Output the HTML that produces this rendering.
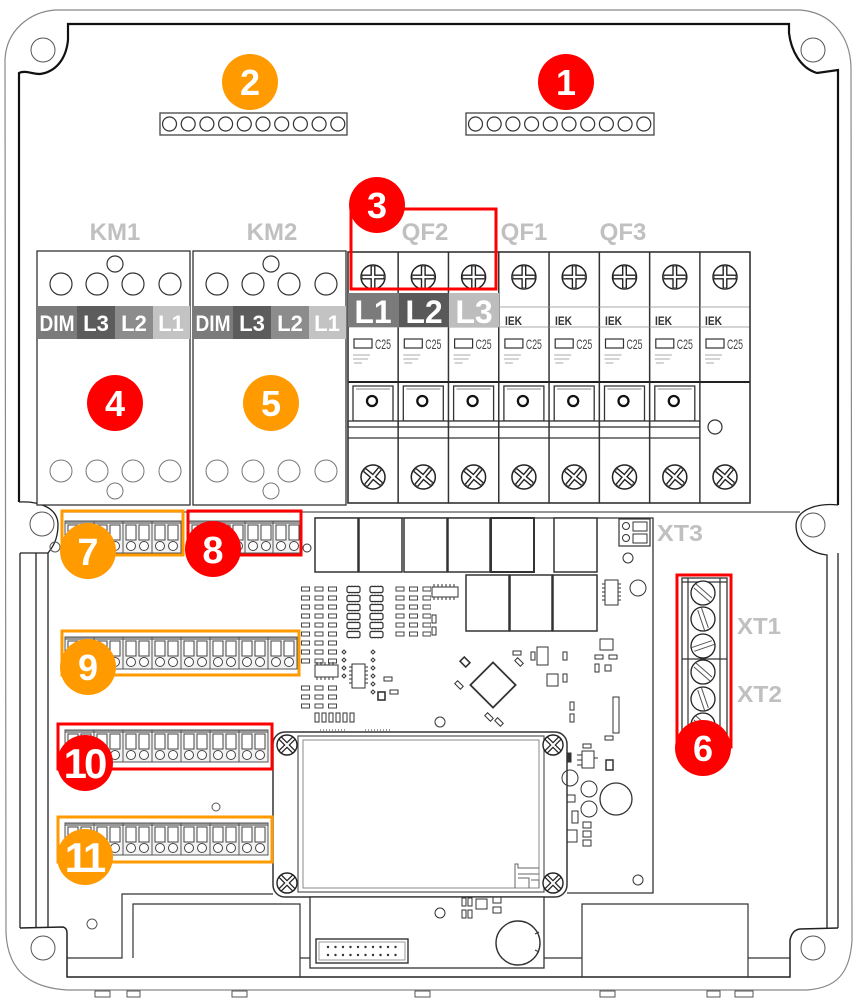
<!DOCTYPE html>
<html><head><meta charset="utf-8">
<style>
html,body{margin:0;padding:0;background:#fff;}
svg{display:block;}
text{font-family:"Liberation Sans",Arial,sans-serif;font-weight:bold;}
</style></head><body>
<svg width="861" height="1008" viewBox="0 0 861 1008" xmlns="http://www.w3.org/2000/svg">
<defs>
 <pattern id="smd" x="301" y="585" width="13.5" height="9" patternUnits="userSpaceOnUse">
  <rect x="0.5" y="2" width="8" height="4" fill="none" stroke="#444" stroke-width="1"/>
 </pattern>
 <pattern id="chp" x="346" y="585" width="23" height="9" patternUnits="userSpaceOnUse">
  <rect x="1" y="1.5" width="13" height="6" rx="1.5" fill="none" stroke="#333" stroke-width="1.2"/>
  <path d="M3,0.5V1.5M6,0.5V1.5M9,0.5V1.5M12,0.5V1.5M3,7.5V8.5M6,7.5V8.5M9,7.5V8.5M12,7.5V8.5" stroke="#333" stroke-width="0.8"/>
 </pattern>
 <g id="tm">
  <rect x="0" y="0" width="29" height="32" fill="#f2f2f2" stroke="#555" stroke-width="1"/>
  <rect x="0.5" y="0.5" width="28" height="2.5" fill="#999"/>
  <rect x="3" y="4" width="10" height="15" fill="#fff" stroke="#444" stroke-width="1"/>
  <rect x="16" y="4" width="10" height="15" fill="#fff" stroke="#444" stroke-width="1"/>
  <circle cx="8" cy="25" r="4.5" fill="#fff" stroke="#444"/>
  <circle cx="21" cy="25" r="4.5" fill="#fff" stroke="#444"/>
 </g>
 <g id="plus">
  <circle cx="0" cy="0" r="12" fill="#fff" stroke="#222" stroke-width="1.5"/>
  <path d="M-11,0H11M0,-11V11" stroke="#222" stroke-width="5"/>
  <path d="M-10.5,0H10.5M0,-10.5V10.5" stroke="#fff" stroke-width="2.2"/>
 </g>
 <g id="dscr">
  <circle cx="0" cy="0" r="10" fill="#fff" stroke="#222" stroke-width="1.4"/>
  <path d="M-7,-7L7,7M7,-7L-7,7" stroke="#222" stroke-width="4.5"/>
  <path d="M-6.5,-6.5L6.5,6.5M6.5,-6.5L-6.5,6.5" stroke="#fff" stroke-width="2"/>
 </g>
 <g id="slot">
  <circle cx="0" cy="0" r="12" fill="#fff" stroke="#222" stroke-width="1.3"/>
  <path d="M-9,-5L7,9M-7,-9L9,5" stroke="#555" stroke-width="1"/>
 </g>
 <g id="bkbase">
  <rect x="0" y="252" width="50" height="251" fill="#fff" stroke="#333" stroke-width="1.2"/>
  <use href="#plus" transform="translate(25,277)"/>
  <path d="M0,307H50M0,327H50" stroke="#aaa" stroke-width="1"/>
  <rect x="6" y="339" width="18" height="9" fill="#fff" stroke="#333" stroke-width="1.2"/>
  <text x="27" y="349" font-size="14" fill="#444" style="font-weight:normal" textLength="16" lengthAdjust="spacingAndGlyphs">C25</text>
  <path d="M5,355H22M5,359H20M6,363H14" stroke="#aaa" stroke-width="1"/>
  <path d="M0,382H50" stroke="#222" stroke-width="2"/>
  <use href="#plus" transform="translate(25,477) rotate(40)"/>
 </g>
 <g id="bk">
  <use href="#bkbase"/>
  <path d="M5,386H45V421H5Z" fill="#fff" stroke="#333" stroke-width="1.3"/>
  <path d="M8,389H42" stroke="#888" stroke-width="1"/>
  <circle cx="24" cy="401" r="5" fill="none" stroke="#111" stroke-width="2.3"/>
  <rect x="0" y="421" width="50" height="6" fill="#fff" stroke="#333" stroke-width="1.3"/>
  <path d="M0,438H50" stroke="#333" stroke-width="1.3"/>
 </g>
 <g id="km">
  <rect x="37" y="251" width="153" height="254" fill="#fff" stroke="#333" stroke-width="1.3"/>
  <circle cx="115" cy="264" r="8" fill="none" stroke="#333" stroke-width="1.2"/>
  <g fill="none" stroke="#333" stroke-width="1.2">
   <circle cx="61" cy="284" r="11"/><circle cx="97" cy="284" r="11"/><circle cx="133" cy="284" r="11"/><circle cx="170" cy="284" r="11"/>
  </g>
  <rect x="37" y="306" width="40" height="33" fill="#7b7b7b"/>
  <rect x="77" y="306" width="38" height="33" fill="#5c5c5c"/>
  <rect x="115" y="306" width="38" height="33" fill="#8c8c8c"/>
  <rect x="153" y="306" width="37" height="33" fill="#c3c3c3"/>
  <g fill="#fff" font-size="22" text-anchor="middle">
   <text x="57" y="331" textLength="35" lengthAdjust="spacingAndGlyphs">DIM</text>
   <text x="96" y="331">L3</text>
   <text x="134" y="331">L2</text>
   <text x="171" y="331">L1</text>
  </g>
  <g fill="none" stroke="#777" stroke-width="1">
   <circle cx="61" cy="471" r="11"/><circle cx="97" cy="471" r="11"/><circle cx="133" cy="471" r="11"/><circle cx="170" cy="471" r="11"/>
   <circle cx="115" cy="491" r="8"/>
  </g>
 </g>
</defs>

<!-- enclosure -->
<path d="M55,10 L800,10 C830,12 850,35 851,67 L852,940 C850,975 835,988 807,990 L67,990 C35,988 8,975 6,933 L5,60 C6,30 30,12 55,10 Z" fill="none" stroke="#888" stroke-width="1.2"/>
<path d="M19,502 L19,73 C25,70 32,74 40,74 C55,72 66,60 68,40 L68,24 L789,24 L789,33 C791,50 800,68 817,73 L838,70 L838,505" fill="none" stroke="#111" stroke-width="2.2"/>
<circle cx="43" cy="50" r="12" fill="none" stroke="#555" stroke-width="1"/>
<circle cx="813" cy="50" r="12" fill="none" stroke="#555" stroke-width="1"/>
<!-- side bosses -->
<path d="M19,502 C40,501 58,508 58,525 C58,540 52,548 48,553 L48,928" fill="none" stroke="#222" stroke-width="1.3"/>
<path d="M20,553 L20,928 M36,553 L36,928 M20,553 L48,553" fill="none" stroke="#222" stroke-width="1.3"/>
<circle cx="42" cy="524" r="12" fill="none" stroke="#555" stroke-width="1"/>
<circle cx="55" cy="547" r="5" fill="none" stroke="#555" stroke-width="1"/>
<path d="M838,505 C820,503 797,508 796,525 C796,542 810,553 827,555 L827,928 M838,553 L838,928" fill="none" stroke="#222" stroke-width="1.3"/>
<circle cx="813" cy="525" r="12" fill="none" stroke="#555" stroke-width="1"/>
<!-- bottom structure -->
<path d="M20,928 L63,927 Q67,928 67,933 L67,977 L790,977 L790,940 Q792,930 800,929 L838,928" fill="none" stroke="#222" stroke-width="1.5"/>
<circle cx="43" cy="948" r="12" fill="none" stroke="#555" stroke-width="1"/>
<circle cx="813" cy="948" r="12" fill="none" stroke="#555" stroke-width="1"/>
<path d="M67,958H122V894H273 M133,958V904H300V977 M300,958H310 M544,958H582 M582,977V904H748V977 M748,958H790" fill="none" stroke="#333" stroke-width="1.2"/>
<g fill="#fff" stroke="#555" stroke-width="1">
 <rect x="95" y="991" width="15" height="6"/><rect x="127" y="991" width="13" height="6"/><rect x="232" y="991" width="15" height="6"/>
 <rect x="415" y="991" width="15" height="6"/><rect x="600" y="991" width="15" height="6"/><rect x="707" y="991" width="13" height="6"/><rect x="735" y="991" width="18" height="6"/>
</g>
<path d="M62,512H800" stroke="#555" stroke-width="1.2"/>

<!-- top terminal strips -->
<rect x="160" y="113" width="187" height="22" fill="#fff" stroke="#444" stroke-width="1.3"/>
<rect x="466" y="113" width="188" height="22" fill="#fff" stroke="#444" stroke-width="1.3"/>
<g fill="none" stroke="#333" stroke-width="1.2">
 <circle cx="169.5" cy="124" r="7"/><circle cx="188.2" cy="124" r="7"/><circle cx="206.9" cy="124" r="7"/><circle cx="225.6" cy="124" r="7"/><circle cx="244.3" cy="124" r="7"/><circle cx="263" cy="124" r="7"/><circle cx="281.7" cy="124" r="7"/><circle cx="300.4" cy="124" r="7"/><circle cx="319.1" cy="124" r="7"/><circle cx="337.8" cy="124" r="7"/>
 <circle cx="475.5" cy="124" r="7"/><circle cx="494.2" cy="124" r="7"/><circle cx="512.9" cy="124" r="7"/><circle cx="531.6" cy="124" r="7"/><circle cx="550.3" cy="124" r="7"/><circle cx="569" cy="124" r="7"/><circle cx="587.7" cy="124" r="7"/><circle cx="606.4" cy="124" r="7"/><circle cx="625.1" cy="124" r="7"/><circle cx="643.8" cy="124" r="7"/>
</g>

<!-- labels -->
<g fill="#c0c0c0" font-size="24" text-anchor="middle">
 <text x="115" y="240">KM1</text>
 <text x="272" y="240">KM2</text>
 <text x="425" y="240">QF2</text>
 <text x="524" y="240">QF1</text>
 <text x="623" y="240">QF3</text>
</g>

<!-- contactors -->
<use href="#km"/>
<use href="#km" transform="translate(156,0)"/>

<!-- breakers -->
<use href="#bk" transform="translate(348,0)"/>
<use href="#bk" transform="translate(398.3,0)"/>
<use href="#bk" transform="translate(448.6,0)"/>
<use href="#bk" transform="translate(498.9,0)"/>
<use href="#bk" transform="translate(549.2,0)"/>
<use href="#bk" transform="translate(599.5,0)"/>
<use href="#bk" transform="translate(649.8,0)"/>
<use href="#bkbase" transform="translate(700,0)"/>
<circle cx="715" cy="427" r="7" fill="none" stroke="#333" stroke-width="1.2"/>
<rect x="348" y="252" width="402" height="251" fill="none" stroke="#333" stroke-width="1.5"/>
<rect x="348" y="293" width="51" height="34" fill="#7b7b7b"/>
<rect x="399" y="293" width="50" height="34" fill="#595959"/>
<rect x="449" y="293" width="50" height="34" fill="#bdbdbd"/>
<g fill="#fff" font-size="32" text-anchor="middle">
 <text x="373" y="323">L1</text>
 <text x="424" y="323">L2</text>
 <text x="474" y="323">L3</text>
</g>
<g fill="#333" font-size="12">
 <text x="505" y="325" textLength="17" lengthAdjust="spacingAndGlyphs">IEK</text><text x="555" y="325" textLength="17" lengthAdjust="spacingAndGlyphs">IEK</text><text x="605" y="325" textLength="17" lengthAdjust="spacingAndGlyphs">IEK</text><text x="655" y="325" textLength="17" lengthAdjust="spacingAndGlyphs">IEK</text><text x="705" y="325" textLength="17" lengthAdjust="spacingAndGlyphs">IEK</text>
</g>

<!-- PCB -->
<path d="M315,518H653V893H567" fill="none" stroke="#333" stroke-width="1.3"/>
<g fill="#fff" stroke="#333" stroke-width="1.5">
 <rect x="315" y="518" width="43" height="54"/><rect x="359" y="518" width="43" height="54"/><rect x="404" y="518" width="43" height="54"/><rect x="448" y="518" width="42" height="54"/><rect x="491" y="518" width="43" height="54" stroke-width="2"/><rect x="554" y="518" width="43" height="54"/>
 <rect x="466" y="575" width="43" height="56"/><rect x="510" y="575" width="42" height="56"/><rect x="553" y="575" width="44" height="56"/>
</g>
<rect x="619" y="519" width="31" height="27" fill="#fff" stroke="#333" stroke-width="1.2"/>
<g fill="none" stroke="#333" stroke-width="1">
 <rect x="633" y="522" width="14" height="9"/><rect x="633" y="534" width="14" height="9"/>
 <circle cx="626" cy="526" r="3.5"/><circle cx="626" cy="538" r="3.5"/>
 <circle cx="628" cy="558" r="5"/><circle cx="638" cy="588" r="8"/>
 <circle cx="307" cy="548" r="4"/>
 <rect x="605" y="580" width="13" height="25"/>
 <path d="M602,584H605M602,588H605M602,592H605M602,596H605M602,600H605M618,584H621M618,588H621M618,592H621M618,596H621M618,600H621"/>
</g>
<rect x="301" y="585" width="40" height="54" fill="url(#smd)"/>
<rect x="346" y="585" width="45" height="54" fill="url(#chp)"/>
<rect x="391" y="585" width="40" height="54" fill="url(#smd)"/>
<rect x="301" y="639" width="40" height="27" fill="url(#smd)"/>
<rect x="301" y="683" width="40" height="27" fill="url(#smd)"/>
<g fill="none" stroke="#333" stroke-width="1">
 <rect x="432" y="587" width="26" height="10"/>
 <path d="M434,584V587M438,584V587M442,584V587M446,584V587M450,584V587M454,584V587M434,597V600M438,597V600M442,597V600M446,597V600M450,597V600M454,597V600"/>
 <rect x="432" y="615" width="4" height="8"/><rect x="432" y="627" width="4" height="8"/>
 <rect x="315" y="665" width="23" height="12"/>
 <path d="M317,662V665M321,662V665M325,662V665M329,662V665M333,662V665M317,677V680M321,677V680M325,677V680M329,677V680M333,677V680"/>
 <rect x="352" y="664" width="13" height="24"/>
 <path d="M349,667H352M349,671H352M349,675H352M349,679H352M349,683H352M365,667H368M365,671H368M365,675H368M365,679H368M365,683H368"/>
 <path d="M344,650l2,2-2,2-2-2zM344,658l2,2-2,2-2-2zM344,666l2,2-2,2-2-2zM344,674l2,2-2,2-2-2zM373,650l2,2-2,2-2-2zM373,658l2,2-2,2-2-2zM373,666l2,2-2,2-2-2zM373,674l2,2-2,2-2-2zM373,682l2,2-2,2-2-2zM373,690l2,2-2,2-2-2z"/>
 <rect x="378" y="692" width="7" height="8" stroke-width="1.6"/>
 <rect x="384" y="677" width="8" height="4"/><rect x="390" y="690" width="8" height="4"/>
 <rect x="315" y="713" width="4" height="9"/><rect x="322" y="713" width="4" height="9"/><rect x="329" y="713" width="4" height="9"/><rect x="336" y="713" width="4" height="9"/><rect x="343" y="713" width="4" height="9"/><rect x="350" y="713" width="4" height="9"/>
 <path d="M320,730h25M365,730h27" stroke-dasharray="1,2"/>
 <circle cx="440" cy="722" r="5"/>
 <rect x="480" y="685" width="8" height="4"/><rect x="513" y="651" width="8" height="4"/>
 <rect x="537" y="647" width="11" height="18"/><rect x="531" y="652" width="4" height="8"/><rect x="563" y="652" width="4" height="8"/>
 <rect x="547" y="674" width="11" height="12"/><rect x="563" y="674" width="4" height="8"/>
 <rect x="600" y="639" width="13" height="11"/>
 <rect x="595" y="655" width="8" height="4"/><rect x="609" y="655" width="8" height="4"/>
 <rect x="595" y="664" width="4" height="8"/><rect x="605" y="665" width="6" height="6"/>
 <rect x="613" y="697" width="6" height="36"/>
 <rect x="605" y="736" width="8" height="4"/>
 <rect x="570" y="702" width="4" height="8"/><rect x="570" y="714" width="4" height="8"/>
 <rect x="455" y="683" width="8" height="4" transform="rotate(45 459 685)"/>
 <rect x="515" y="660" width="8" height="4" transform="rotate(45 519 662)"/>
 <rect x="485" y="715" width="8" height="4" transform="rotate(45 489 717)"/>
 <rect x="495" y="720" width="8" height="4" transform="rotate(45 499 722)"/>
 <rect x="461" y="659" width="8" height="6" transform="rotate(45 465 662)" stroke-width="1.6"/>
</g>
<rect x="477" y="669" width="32" height="32" transform="rotate(45 493 685)" fill="#fff" stroke="#333" stroke-width="1.8"/>

<!-- display board -->
<rect x="273" y="732" width="294" height="165" rx="12" fill="#fff" stroke="#333" stroke-width="1.5"/>
<rect x="298" y="736" width="246" height="156" fill="none" stroke="#555" stroke-width="1.2"/>
<rect x="303" y="740" width="236" height="148" fill="none" stroke="#888" stroke-width="1"/>
<path d="M515,888V864H518V868H539M518,874H539M518,878H529V888M531,880H539V888" fill="none" stroke="#666" stroke-width="1"/>
<use href="#dscr" transform="translate(287,745)"/>
<use href="#dscr" transform="translate(553,745)"/>
<use href="#dscr" transform="translate(287,883)"/>
<use href="#dscr" transform="translate(553,883)"/>
<g fill="none" stroke="#333" stroke-width="1">
 <rect x="567" y="753" width="4" height="9" fill="#333"/>
 <rect x="582" y="751" width="12" height="17"/><rect x="583" y="744" width="8" height="4"/>
 <path d="M577,755H582M577,760H582M577,765H582M594,758H598"/>
 <rect x="606" y="760" width="7" height="10" stroke-width="1.5"/>
 <circle cx="589" cy="789" r="8"/><circle cx="589" cy="809" r="8"/>
 <circle cx="616" cy="799" r="16" stroke-width="1.3"/>
 <circle cx="570" cy="778" r="8"/>
 <rect x="567" y="795" width="8" height="7"/>
 <rect x="572" y="811" width="6" height="12"/>
 <rect x="583" y="822" width="8" height="6"/><rect x="583" y="831" width="8" height="6"/><rect x="583" y="840" width="8" height="6"/>
 <rect x="567" y="830" width="10" height="12"/>
 <circle cx="638" cy="880" r="5"/>
</g>
<!-- connector board -->
<rect x="310" y="897" width="234" height="71" fill="#fff" stroke="#333" stroke-width="1.3"/>
<g fill="none" stroke="#333" stroke-width="1">
 <circle cx="440" cy="913" r="5"/>
 <rect x="462" y="898" width="4" height="8"/><rect x="468" y="898" width="4" height="8"/>
 <rect x="462" y="910" width="4" height="8"/><rect x="468" y="910" width="4" height="8"/>
 <rect x="476" y="899" width="11" height="10"/>
 <rect x="493" y="897" width="8" height="6"/><rect x="493" y="907" width="8" height="6"/>
 <circle cx="518" cy="943" r="22" stroke-width="1.4"/>
 <path d="M535,934l4,-2M535,950l4,2"/>
 <rect x="316" y="939" width="92" height="24" stroke-width="1.4"/>
 <rect x="319" y="942" width="86" height="18" stroke="#999"/>
</g>
<g fill="#333">
 <circle cx="328" cy="947" r="1.2"/><circle cx="335.5" cy="947" r="1.2"/><circle cx="343" cy="947" r="1.2"/><circle cx="350.5" cy="947" r="1.2"/><circle cx="358" cy="947" r="1.2"/><circle cx="365.5" cy="947" r="1.2"/><circle cx="373" cy="947" r="1.2"/><circle cx="380.5" cy="947" r="1.2"/><circle cx="388" cy="947" r="1.2"/><circle cx="395.5" cy="947" r="1.2"/>
 <circle cx="328" cy="955" r="1.2"/><circle cx="335.5" cy="955" r="1.2"/><circle cx="343" cy="955" r="1.2"/><circle cx="350.5" cy="955" r="1.2"/><circle cx="358" cy="955" r="1.2"/><circle cx="365.5" cy="955" r="1.2"/><circle cx="373" cy="955" r="1.2"/><circle cx="380.5" cy="955" r="1.2"/><circle cx="388" cy="955" r="1.2"/><circle cx="395.5" cy="955" r="1.2"/>
</g>
<g fill="none" stroke="#555" stroke-width="1">
 <circle cx="216" cy="807" r="4"/><circle cx="92" cy="924" r="5"/><circle cx="440" cy="722" r="5"/>
</g>

<!-- XT1/XT2 terminal -->
<rect x="682" y="578" width="45" height="170" fill="#fff" stroke="#333" stroke-width="1.3"/>
<path d="M688,578V748M720,578V748M682,582H727M682,659H727" stroke="#333" stroke-width="1.2" fill="none"/>
<use href="#slot" transform="translate(703,593)"/>
<use href="#slot" transform="translate(703,619) rotate(30)"/>
<use href="#slot" transform="translate(703,646) rotate(-60)"/>
<use href="#slot" transform="translate(703,672)"/>
<use href="#slot" transform="translate(703,699) rotate(30)"/>
<use href="#slot" transform="translate(703,725)"/>
<g fill="#c0c0c0" font-size="23">
 <text x="657" y="541" textLength="46" lengthAdjust="spacingAndGlyphs">XT3</text>
 <text x="737" y="634" textLength="44" lengthAdjust="spacingAndGlyphs">XT1</text>
 <text x="737" y="702" textLength="45" lengthAdjust="spacingAndGlyphs">XT2</text>
</g>

<!-- terminal blocks -->
<use href="#tm" transform="translate(65,521)"/><use href="#tm" transform="translate(94,521)"/><use href="#tm" transform="translate(123,521)"/><use href="#tm" transform="translate(152,521)"/>
<use href="#tm" transform="translate(189,521)"/><use href="#tm" transform="translate(217,521)"/><use href="#tm" transform="translate(245,521)"/><use href="#tm" transform="translate(273,521)"/>
<use href="#tm" transform="translate(65,637)"/><use href="#tm" transform="translate(94,637)"/><use href="#tm" transform="translate(123,637)"/><use href="#tm" transform="translate(152,637)"/><use href="#tm" transform="translate(181,637)"/><use href="#tm" transform="translate(210,637)"/><use href="#tm" transform="translate(239,637)"/><use href="#tm" transform="translate(268,637)"/>
<use href="#tm" transform="translate(65,730)"/><use href="#tm" transform="translate(94,730)"/><use href="#tm" transform="translate(123,730)"/><use href="#tm" transform="translate(152,730)"/><use href="#tm" transform="translate(181,730)"/><use href="#tm" transform="translate(210,730)"/><use href="#tm" transform="translate(239,730)"/>
<use href="#tm" transform="translate(65,823)"/><use href="#tm" transform="translate(94,823)"/><use href="#tm" transform="translate(123,823)"/><use href="#tm" transform="translate(152,823)"/><use href="#tm" transform="translate(181,823)"/><use href="#tm" transform="translate(210,823)"/><use href="#tm" transform="translate(239,823)"/>

<!-- highlight boxes -->
<g fill="none" stroke-width="3">
 <rect x="62" y="511" width="121" height="44" stroke="#ff9a00"/>
 <rect x="188" y="511" width="113" height="44" stroke="#ff0000"/>
 <rect x="62" y="631" width="237" height="44" stroke="#ff9a00"/>
 <rect x="58" y="724" width="214" height="45" stroke="#ff0000"/>
 <rect x="58" y="817" width="214" height="45" stroke="#ff9a00"/>
 <rect x="351" y="209" width="145" height="80" stroke="#ff0000"/>
 <rect x="677" y="575" width="54" height="172" stroke="#ff0000"/>
</g>

<!-- badges -->
<g font-size="36" fill="#fff" text-anchor="middle">
 <circle cx="566" cy="82" r="28" fill="#ff0000"/><text x="566" y="95">1</text>
 <circle cx="250" cy="82" r="28" fill="#ff9a00"/><text x="250" y="95">2</text>
 <circle cx="377" cy="205" r="28" fill="#ff0000"/><text x="377" y="218">3</text>
 <circle cx="115" cy="403" r="28" fill="#ff0000"/><text x="115" y="416">4</text>
 <circle cx="271" cy="403" r="28" fill="#ff9a00"/><text x="271" y="416">5</text>
 <circle cx="703" cy="748" r="28" fill="#ff0000"/><text x="703" y="761">6</text>
 <circle cx="88" cy="551" r="28" fill="#ff9a00"/><text x="88" y="565" font-size="38">7</text>
 <circle cx="213" cy="549" r="28" fill="#ff0000"/><text x="213" y="563" font-size="38">8</text>
 <circle cx="88" cy="667" r="28" fill="#ff9a00"/><text x="88" y="680">9</text>
 <circle cx="85" cy="763" r="28" fill="#ff0000"/><text x="84" y="778" font-size="42" letter-spacing="-3">10</text>
 <circle cx="85" cy="857" r="28" fill="#ff9a00"/><text x="84" y="872" font-size="42" letter-spacing="-3">11</text>
</g>
</svg>
</body></html>
